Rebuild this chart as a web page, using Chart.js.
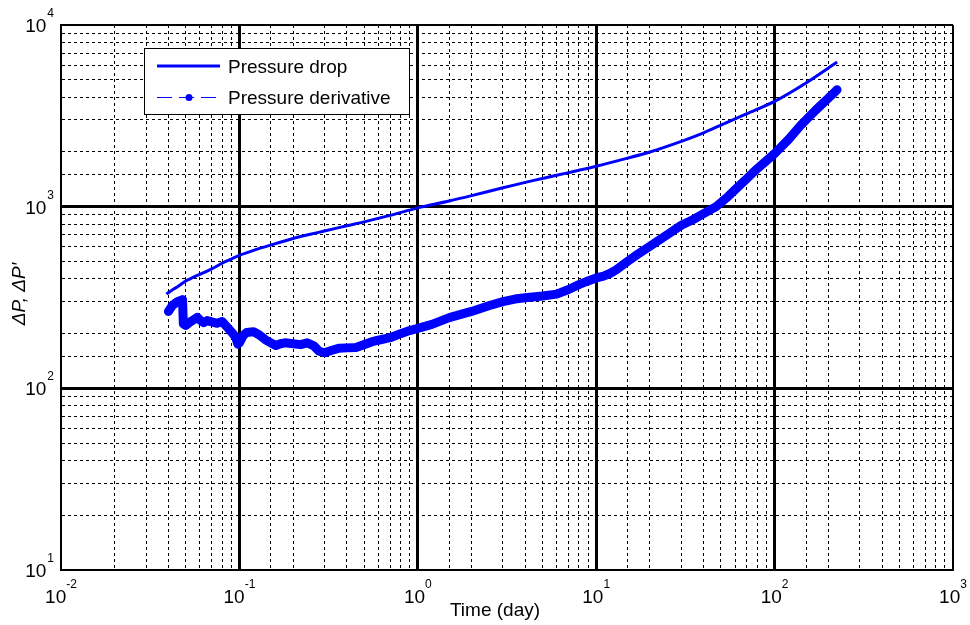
<!DOCTYPE html>
<html>
<head>
<meta charset="utf-8">
<script src="https://cdn.jsdelivr.net/npm/chart.js@4.4.1/dist/chart.umd.min.js"></script>
<style>
  html, body { margin: 0; padding: 0; background: #fff; }
  #wrap { width: 970px; height: 625px; }
</style>
</head>
<body>
<div id="wrap"><canvas id="chart" width="970" height="625"></canvas></div>
<script>
// axis ranges and tick labels (powers of ten)
const xTickExps = [-2, -1, 0, 1, 2, 3];
const yTickExps = [1, 2, 3, 4];
const seriesLabels = ['Pressure drop', 'Pressure derivative'];
const xTitle = 'Time (day)';
const yTitle = 'ΔP, ΔP′';

// pressure drop
const dropTime = [0.039, 0.042, 0.045, 0.05, 0.055, 0.06, 0.07, 0.08, 0.09, 0.1, 0.12, 0.15, 0.2, 0.25, 0.3, 0.4, 0.5, 0.7, 1, 1.5, 2, 3, 4, 5, 7, 10, 15, 20, 30, 40, 50, 70, 100, 150, 224];
const dropVal = [330, 348, 362, 390, 408, 424, 455, 488, 515, 540, 575, 615, 668, 705, 735, 785, 825, 895, 985, 1075, 1150, 1270, 1360, 1430, 1540, 1670, 1850, 2000, 2290, 2550, 2810, 3250, 3800, 4800, 6250];

// pressure derivative
const derivTime = [0.040, 0.042, 0.045, 0.048, 0.0485, 0.05, 0.053, 0.056, 0.058, 0.06, 0.063, 0.066, 0.07, 0.075, 0.08, 0.085, 0.09, 0.095, 0.098, 0.1, 0.105, 0.11, 0.12, 0.13, 0.14, 0.15, 0.16, 0.17, 0.18, 0.2, 0.22, 0.24, 0.26, 0.28, 0.3, 0.33, 0.36, 0.4, 0.45, 0.5, 0.55, 0.6, 0.7, 0.8, 0.9, 1.0, 1.2, 1.5, 2, 2.5, 3, 3.5, 4, 5, 6, 7, 8, 9, 10, 11, 12, 13, 15, 17, 20, 25, 30, 35, 40, 47, 55, 60, 70, 80, 90, 100, 120, 140, 170, 200, 224];
const derivVal = [265, 285, 300, 308, 226, 222, 232, 240, 246, 238, 230, 236, 232, 228, 233, 218, 205, 192, 175, 178, 195, 203, 205, 196, 185, 178, 172, 176, 178, 176, 174, 178, 172, 160, 157, 162, 166, 167, 168, 174, 180, 184, 190, 200, 208, 214, 225, 245, 265, 285, 300, 310, 315, 322, 330, 350, 372, 390, 405, 415, 430, 450, 500, 545, 606, 700, 790, 850, 915, 1000, 1140, 1240, 1430, 1620, 1790, 1960, 2350, 2800, 3400, 3950, 4400];

const BLUE = '#0000ff';

function isMajor(v) {
  const l = Math.log10(v);
  return Math.abs(l - Math.round(l)) < 1e-6;
}
function isEdge(v, lo, hi) {
  return Math.abs(Math.log10(v) - lo) < 1e-6 || Math.abs(Math.log10(v) - hi) < 1e-6;
}

function gridOpts(lo, hi) {
  return {
    color: '#000',
    drawTicks: false,
    lineWidth: c => {
      if (!c.tick) return 1;
      if (isEdge(c.tick.value, lo, hi)) return 2;
      return isMajor(c.tick.value) ? 3 : 1;
    }
  };
}
function borderOpts() {
  return {
    display: true,
    color: '#000',
    width: 2,
    dash: c => (c.tick && !isMajor(c.tick.value)) ? [3, 3] : []
  };
}

const labelsPlugin = {
  id: 'labels',
  afterDraw(chart) {
    const ctx = chart.ctx;
    const xs = chart.scales.x, ys = chart.scales.y;
    const area = chart.chartArea;
    ctx.save();
    ctx.fillStyle = '#000';
    ctx.textBaseline = 'alphabetic';
    const big = '19px "Liberation Sans", Arial, sans-serif';
    const small = '12px "Liberation Sans", Arial, sans-serif';

    // x tick labels
    xTickExps.forEach(e => {
      const px = xs.getPixelForValue(Math.pow(10, e));
      ctx.font = big;
      const w1 = ctx.measureText('10').width;
      ctx.font = small;
      const w2 = ctx.measureText(String(e)).width;
      const x0 = px - (w1 + w2) / 2;
      ctx.font = big;
      ctx.textAlign = 'left';
      ctx.fillText('10', x0, area.bottom + 33);
      ctx.font = small;
      ctx.fillText(String(e), x0 + w1, area.bottom + 18);
    });

    // y tick labels
    yTickExps.forEach(e => {
      const py = ys.getPixelForValue(Math.pow(10, e));
      ctx.font = small;
      const w2 = ctx.measureText(String(e)).width;
      ctx.font = big;
      const w1 = ctx.measureText('10').width;
      const right = area.left - 7;
      ctx.textAlign = 'left';
      ctx.fillText('10', right - w2 - 1 - w1, py + 7);
      ctx.font = small;
      ctx.fillText(String(e), right - w2, py - 8);
    });

    // x title
    ctx.font = big;
    ctx.textAlign = 'center';
    ctx.fillText(xTitle, 495, 616);

    // y title
    ctx.save();
    ctx.translate(25, 294);
    ctx.rotate(-Math.PI / 2);
    ctx.font = 'italic 19px "Liberation Sans", Arial, sans-serif';
    ctx.textAlign = 'center';
    ctx.fillText(yTitle, 0, 0);
    ctx.restore();

    // legend
    const lx = 144, ly = 48, lw = 265, lh = 66;
    ctx.fillStyle = '#fff';
    ctx.fillRect(lx, ly, lw, lh);
    ctx.strokeStyle = '#000';
    ctx.lineWidth = 1;
    ctx.strokeRect(lx + 0.5, ly + 0.5, lw, lh);

    const ds = chart.data.datasets;
    // entry 1: solid thick line
    ctx.strokeStyle = BLUE;
    ctx.lineWidth = 3;
    ctx.beginPath();
    ctx.moveTo(157, 66); ctx.lineTo(220, 66);
    ctx.stroke();
    // entry 2: dashed thin line with dot
    ctx.lineWidth = 1;
    ctx.setLineDash([15, 7]);
    ctx.beginPath();
    ctx.moveTo(157, 97.5); ctx.lineTo(221, 97.5);
    ctx.stroke();
    ctx.setLineDash([]);
    ctx.fillStyle = BLUE;
    ctx.beginPath();
    ctx.arc(189, 97.5, 3.5, 0, Math.PI * 2);
    ctx.fill();

    ctx.fillStyle = '#000';
    ctx.font = big;
    ctx.textAlign = 'left';
    ctx.fillText(ds[0].label, 228, 73);
    ctx.fillText(ds[1].label, 228, 104);
    ctx.restore();
  }
};

new Chart(document.getElementById('chart'), {
  type: 'scatter',
  data: {
    datasets: [
      {
        label: seriesLabels[0],
        data: dropTime.map((t, i) => ({ x: t, y: dropVal[i] })),
        showLine: true,
        borderColor: BLUE,
        borderWidth: 3,
        pointRadius: 0,
        tension: 0.3
      },
      {
        label: seriesLabels[1],
        data: derivTime.map((t, i) => ({ x: t, y: derivVal[i] })),
        showLine: true,
        borderColor: BLUE,
        backgroundColor: BLUE,
        borderWidth: 9,
        borderCapStyle: 'round',
        borderJoinStyle: 'round',
        pointRadius: 0,
        tension: 0
      }
    ]
  },
  options: {
    responsive: false,
    animation: false,
    layout: { padding: { left: 61, top: 25, right: 17, bottom: 55 } },
    plugins: {
      legend: { display: false },
      tooltip: { enabled: false }
    },
    scales: {
      x: {
        type: 'logarithmic',
        min: Math.pow(10, xTickExps[0]),
        max: Math.pow(10, xTickExps[xTickExps.length - 1]),
        grid: gridOpts(xTickExps[0], xTickExps[xTickExps.length - 1]),
        border: borderOpts(),
        ticks: { display: false, autoSkip: false }
      },
      y: {
        type: 'logarithmic',
        min: Math.pow(10, yTickExps[0]),
        max: Math.pow(10, yTickExps[yTickExps.length - 1]),
        grid: gridOpts(yTickExps[0], yTickExps[yTickExps.length - 1]),
        border: borderOpts(),
        ticks: { display: false, autoSkip: false }
      }
    }
  },
  plugins: [labelsPlugin]
});
</script>
</body>
</html>
